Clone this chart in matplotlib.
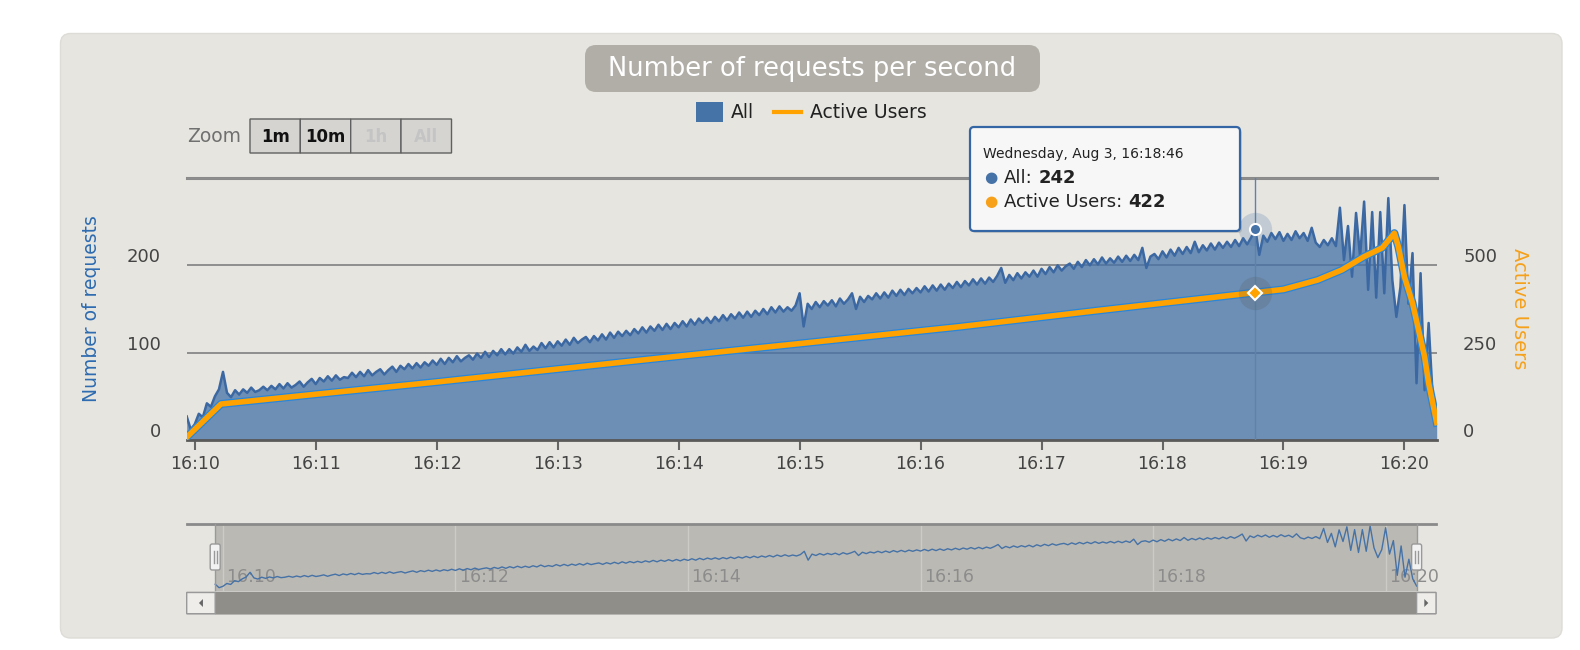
import matplotlib.pyplot as plt
import numpy as np
from matplotlib.patches import FancyBboxPatch, Polygon
from matplotlib.transforms import IdentityTransform, ScaledTranslation
from matplotlib.lines import Line2D
from matplotlib.text import Annotation

W, H = 1580, 650

# 시간축 : 16:10:00 기준 초 (2초 간격)
t_all = np.arange(-4, 617, 2)
all_req = [
    27, 12, 18, 30, 26, 42, 38, 50, 58, 78,
    54, 49, 57, 52, 58, 54, 60, 55, 57, 61,
    57, 62, 58, 64, 59, 65, 60, 63, 67, 61,
    66, 70, 64, 71, 67, 73, 68, 74, 69, 72,
    71, 77, 72, 78, 73, 80, 74, 78, 81, 75,
    80, 84, 78, 85, 81, 87, 82, 88, 83, 89,
    85, 91, 86, 93, 87, 94, 89, 96, 90, 94,
    97, 92, 99, 94, 101, 95, 102, 97, 104, 98,
    104, 99, 106, 101, 109, 102, 107, 103, 111, 105,
    112, 106, 113, 108, 115, 109, 117, 111, 115, 118,
    112, 119, 114, 121, 115, 123, 117, 124, 119, 125,
    120, 127, 122, 129, 123, 130, 125, 132, 126, 133,
    127, 134, 129, 136, 130, 138, 132, 139, 134, 140,
    134, 141, 136, 143, 137, 144, 139, 146, 140, 147,
    141, 148, 143, 150, 144, 152, 146, 153, 147, 152,
    148, 154, 168, 130, 156, 150, 158, 152, 159, 154,
    160, 153, 162, 156, 161, 168, 150, 164, 158, 165,
    161, 168, 162, 169, 163, 171, 165, 172, 166, 173,
    168, 174, 169, 176, 170, 177, 171, 178, 172, 179,
    174, 181, 175, 182, 177, 184, 178, 185, 179, 186,
    181, 188, 197, 180, 189, 183, 191, 185, 192, 187,
    194, 187, 196, 190, 198, 192, 200, 194, 199, 202,
    196, 204, 198, 206, 200, 207, 201, 209, 202, 208,
    203, 210, 204, 211, 205, 212, 206, 220, 197, 210,
    213, 207, 216, 209, 218, 211, 220, 213, 221, 214,
    227, 215, 223, 217, 225, 218, 226, 220, 227, 221,
    229, 222, 231, 224, 232, 242, 212, 234, 227, 237,
    230, 238, 228, 236, 229, 239, 231, 237, 228, 243,
    226, 221, 229, 223, 231, 222, 266, 206, 245, 187,
    260, 210, 273, 172, 261, 163, 261, 168, 277, 183,
    141, 175, 269, 156, 214, 65, 191, 57, 134, 50,
    19,
]

# Active Users
user_t = [-4, 13, 60, 120, 175, 240, 300, 379, 450, 526, 540, 557, 569,
          580, 589, 595, 597, 600, 604, 607, 610, 612, 616]
user_v = [8, 103, 131, 166, 200, 240, 276, 324, 372, 422, 431, 458, 487,
          525, 550, 592, 553, 467, 392, 315, 238, 163, 50]

minute_labels = ["16:10", "16:11", "16:12", "16:13", "16:14", "16:15",
                 "16:16", "16:17", "16:18", "16:19", "16:20"]
nav_labels = ["16:10", "16:12", "16:14", "16:16", "16:18", "16:20"]
zoom_buttons = ["1m", "10m", "1h", "All"]

tip_time = 526
tip_title = "Wednesday, Aug 3, 16:18:46"

BLUE = "#4572A7"
ORANGE = "#FFA200"
PANEL = "#e6e5e0"

plt.rcParams["font.family"] = ["DejaVu Sans"]

fig = plt.figure(figsize=(W / 100, H / 100), dpi=100, facecolor="white")


# 픽셀 좌표(왼쪽 위 기준)로 박스 그리기
def box(x0, y0, x1, y1, rs=0, **kw):
    p = FancyBboxPatch((x0, H - y1), x1 - x0, y1 - y0,
                       boxstyle=f"round,pad=0,rounding_size={rs}",
                       transform=IdentityTransform(), **kw)
    fig.add_artist(p)
    return p


def ftext(x, y, s, **kw):
    return fig.text(x / W, 1 - y / H, s, **kw)


def hline(x0, x1, y, **kw):
    fig.add_artist(Line2D([x0, x1], [H - y, H - y], transform=IdentityTransform(), **kw))


def vline(x, y0, y1, **kw):
    fig.add_artist(Line2D([x, x], [H - y0, H - y1], transform=IdentityTransform(), **kw))


# 배경 패널
box(60.5, 33.5, 1562, 638, rs=10, fc=PANEL, ec="#dddcd7", lw=1, zorder=-10)

# 제목
box(585, 45, 1040, 92, rs=11, fc="#b0aea7", ec="none", zorder=1)
ftext(812.5, 68.5, "Number of requests per second", color="white", fontsize=18.5,
      ha="center", va="center", zorder=2)

# 범례
box(696, 102, 723, 122, fc=BLUE, ec="none", zorder=1)
ftext(731, 112, "All", fontsize=13.5, color="#222", va="center")
hline(774, 801, 112, color=ORANGE, lw=3, zorder=1)
ftext(810, 112, "Active Users", fontsize=13.5, color="#222", va="center")

# Zoom 버튼
ftext(187, 137, "Zoom", fontsize=13.5, color="#707070", va="center")
edges = [250, 300.3, 350.7, 401, 451.5]
for i, lbl in enumerate(zoom_buttons):
    box(edges[i], 119, edges[i + 1], 153, fc="#d5d4d1", ec="#606060", lw=1, zorder=1)
    col = "#111" if i < 2 else "#c4c4c4"
    ftext((edges[i] + edges[i + 1]) / 2, 136.5, lbl, fontsize=12, fontweight="bold",
          color=col, ha="center", va="center")

# 메인 차트
ax = fig.add_axes([186.7 / W, (H - 440) / H, 1250 / W, 262 / H])
ax.set_facecolor("none")
ax.fill_between(t_all, 0, all_req, color=BLUE, alpha=0.75, lw=0, zorder=2)
ax.plot(t_all, all_req, color="#3b68a2", lw=1.8, zorder=3)
ax.set_xlim(t_all[0], t_all[-1])
ax.set_ylim(0, 300)
ax.set_yticks([0, 100, 200, 300])
ax.set_yticklabels(["0", "100", "200", ""])
ax.grid(axis="y", color="#8e8e8e", lw=1.4)
ax.axhline(300, color="#8a8a8a", lw=2.2, clip_on=False, zorder=1)
for s in ["top", "left", "right"]:
    ax.spines[s].set_visible(False)
ax.spines["bottom"].set_color("#5a5a5a")
ax.spines["bottom"].set_linewidth(2)
ax.spines["bottom"].set_zorder(5)
ax.set_xticks(np.arange(0, 601, 60))
ax.set_xticklabels(minute_labels)
ax.tick_params(axis="x", length=7.5, width=1.5, color="#666", labelsize=12.5,
               labelcolor="#444", pad=3)
ax.tick_params(axis="y", length=0, labelsize=13, labelcolor="#444", pad=18.5)
up = ScaledTranslation(0, 0.1, fig.dpi_scale_trans)
for lab in ax.get_yticklabels():
    lab.set_transform(lab.get_transform() + up)
ax.set_ylabel("Number of requests", color="#2d6bb0", fontsize=13.5)
ax.yaxis.set_label_coords(-0.0686, 0.5)

# 오른쪽 축 (Active Users)
ax2 = ax.twinx()
ax2.set_ylim(0, 750)
ax2.set_yticks([0, 250, 500])
ax2.tick_params(axis="y", length=0, labelsize=13, labelcolor="#444", pad=19)
for lab in ax2.get_yticklabels():
    lab.set_transform(lab.get_transform() + up)
for s in ax2.spines.values():
    s.set_visible(False)
ax2.set_ylabel("Active Users", color="#f7a11a", fontsize=14, rotation=270,
               va="center", ha="center")
ax2.yaxis.set_label_coords(1.0666, 0.5)
ax2.plot(user_t, user_v, color="#2a86d9", lw=5.8, solid_joinstyle="round", zorder=3)
ax2.plot(user_t, user_v, color=ORANGE, lw=4, solid_joinstyle="round", zorder=4)

# 툴팁 지점 표시
idx = list(t_all).index(tip_time)
tip_all = all_req[idx]
tip_users = user_v[user_t.index(tip_time)]
ax2.axvline(tip_time, color="#5f82ad", lw=1, zorder=2)
ax2.plot([tip_time], [tip_all], "o", ms=24, color=BLUE, alpha=0.22, mew=0,
         transform=ax.transData, zorder=6, clip_on=False)
ax2.plot([tip_time], [tip_all], "o", ms=8, mfc=BLUE, mec="white", mew=1.5,
         transform=ax.transData, zorder=7, clip_on=False)
ax2.plot([tip_time], [tip_users], "o", ms=24, color="#555", alpha=0.2, mew=0, zorder=6)
ax2.plot([tip_time], [tip_users], "D", ms=7.5, mfc=ORANGE, mec="white", mew=1.5, zorder=7)

# 툴팁 박스
box(972, 129, 1242, 233, rs=4, fc="#000000", ec="none", alpha=0.12, zorder=8)
box(970, 127, 1240, 231, rs=4, fc="#f7f7f7", ec="#3465a4", lw=1.6, zorder=9)
ftext(983, 154, tip_title, fontsize=10, color="#222", va="center", zorder=10)


def tip_line(y, bullet_col, label, value):
    ftext(984, y - 9.5, "\u25cf", fontsize=11, color=bullet_col, va="center", zorder=10)
    t = ftext(1004, y, label, fontsize=13, color="#222", va="bottom", zorder=10)
    a = Annotation(str(value), xy=(1, 0), xycoords=t, xytext=(4, 0), textcoords="offset points",
                   fontsize=13, fontweight="bold", color="#222", va="bottom", ha="left",
                   annotation_clip=False, zorder=10)
    fig.add_artist(a)


tip_line(187, BLUE, "All:", tip_all)
tip_line(211, "#f7a11a", "Active Users:", tip_users)

# 네비게이터
nav = fig.add_axes([186.7 / W, (H - 590.5) / H, 1249.3 / W, 66.5 / H])
nav.set_axis_off()
nav.set_xlim(-18.7, 626)
nav.set_ylim(0, 285)
nav.axvspan(t_all[0], t_all[-1], color="#bbb9b3", lw=0, zorder=0)
for tt, lbl in zip(np.arange(0, 601, 120), nav_labels):
    nav.axvline(tt, color="#cdcbc6", lw=1, zorder=1)
    nav.annotate(lbl, xy=(tt, 0.2), xycoords=("data", "axes fraction"), xytext=(2.5, 0),
                 textcoords="offset points", va="center", ha="left", fontsize=12.5,
                 color="#8c8c8c", zorder=2)
nav.plot(t_all, all_req, color=BLUE, lw=1, zorder=3)
nav.axhline(285, color="#8a8a8a", lw=2, clip_on=False, zorder=4)

h0 = nav.transData.transform((t_all[0], 0))[0]
h1 = nav.transData.transform((t_all[-1], 0))[0]
for hx in (h0, h1):
    vline(hx, 524, 590, color="#999", lw=1, zorder=2)
    box(hx - 5, 544, hx + 5, 570, rs=2, fc="#f2f2f2", ec="#999", lw=1, zorder=3)
    vline(hx - 1.5, 551, 563, color="#999", lw=1, zorder=4)
    vline(hx + 1.5, 551, 563, color="#999", lw=1, zorder=4)

# 스크롤바
box(186.7, 592.5, 1436, 613.7, fc="#e9e8e4", ec="#aaa", lw=1, zorder=1)
box(h0, 592.5, h1, 613.7, fc="#8f8e89", ec="#8f8e89", lw=1, zorder=2)
box(186.7, 592.5, h0, 613.7, fc="#eeede9", ec="#999", lw=1, zorder=2)
box(h1, 592.5, 1436, 613.7, fc="#eeede9", ec="#999", lw=1, zorder=2)
lc = (186.7 + h0) / 2
rc = (h1 + 1436) / 2
fig.add_artist(Polygon([[lc + 2, H - 599], [lc + 2, H - 607], [lc - 2, H - 603]],
                       transform=IdentityTransform(), fc="#666", ec="none", zorder=3))
fig.add_artist(Polygon([[rc - 2, H - 599], [rc - 2, H - 607], [rc + 2, H - 603]],
                       transform=IdentityTransform(), fc="#666", ec="none", zorder=3))

fig.savefig("out.png", dpi=100, facecolor="white")
